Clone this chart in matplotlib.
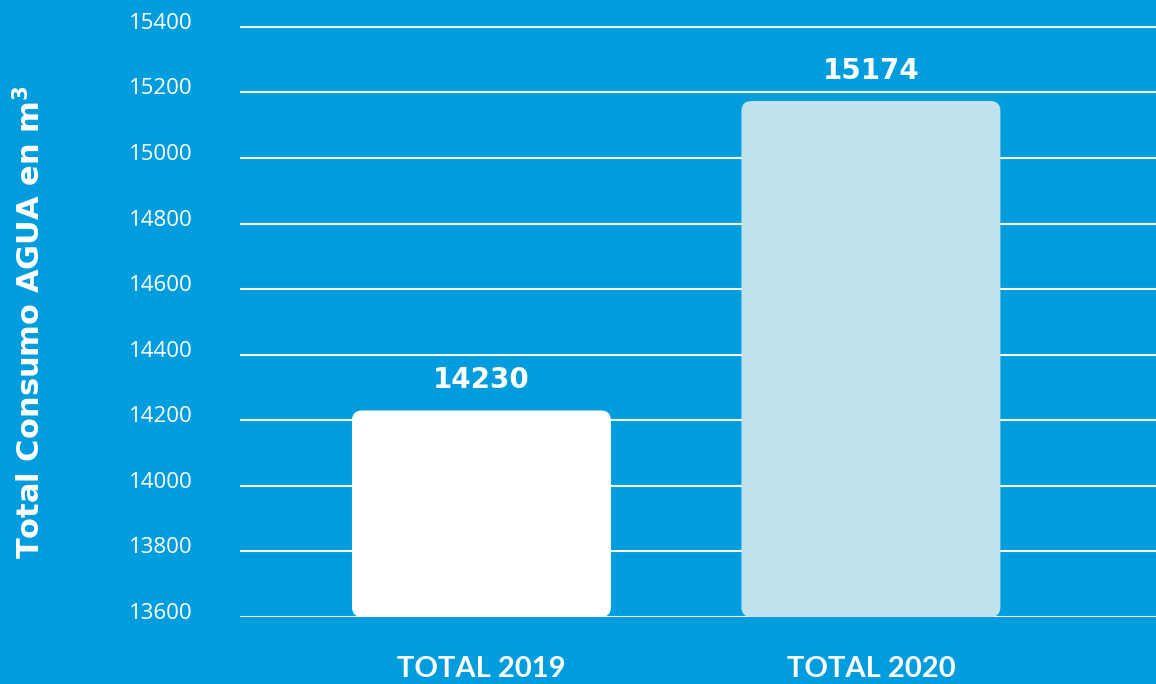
import matplotlib
matplotlib.use("Agg")
from matplotlib import pyplot as plt
from matplotlib.patches import FancyBboxPatch
from matplotlib.transforms import ScaledTranslation

categories = ["TOTAL 2019", "TOTAL 2020"]
values = [14230, 15174]
yticks = [13600, 13800, 14000, 14200, 14400, 14600, 14800, 15000, 15200, 15400]

bg = "#009DDE"
bar_colors = ["#FFFFFF", "#BFE2EE"]

fig = plt.figure(figsize=(11.56, 6.84), dpi=100, facecolor=bg)
ax = fig.add_axes([240 / 1156, 67 / 684, 916 / 1156, 617 / 684])
ax.set_facecolor(bg)

ax.set_xlim(-0.62, 1.732)
ax.set_ylim(13600, 15482)

bars = ax.bar(range(len(values)), [v - 13600 for v in values], bottom=13600,
              width=0.665, color=bar_colors, zorder=2)

# swap the plain rectangles for rounded ones
fig.canvas.draw()
p0 = ax.transData.transform((0, 13600))
p1 = ax.transData.transform((1, 13800))
x_px = p1[0] - p0[0]
y_px = (p1[1] - p0[1]) / 200
aspect = x_px / y_px
for b, c in zip(bars, bar_colors):
    b.set_visible(False)
    rp = FancyBboxPatch((b.get_x(), b.get_y()), b.get_width(), b.get_height(),
                        boxstyle="round,pad=0,rounding_size=%f" % (10 / x_px),
                        mutation_aspect=aspect, facecolor=c, edgecolor="none",
                        zorder=2)
    ax.add_patch(rp)

for i, v in enumerate(values):
    ax.text(i, v + 50, str(v), ha="center", va="bottom", color="white",
            fontsize=20, fontweight="bold", family=["DejaVu Sans"])

ax.set_yticks(yticks)
ax.set_yticklabels([str(t) for t in yticks], fontsize=16, color="white",
                   family=["Open Sans", "DejaVu Sans"])
ax.tick_params(axis="y", length=0, pad=34)
shift = ScaledTranslation(0, 0.06, fig.dpi_scale_trans)
for lab in ax.get_yticklabels():
    lab.set_transform(lab.get_transform() + shift)

ax.set_xticks(range(len(categories)))
ax.set_xticklabels(categories, fontsize=21, fontweight="bold", color="white",
                   family=["Lato", "DejaVu Sans"])
ax.tick_params(axis="x", length=0, pad=28)

ax.grid(axis="y", color="white", linewidth=1.5, zorder=1)
ax.set_axisbelow(True)
for s in ax.spines.values():
    s.set_visible(False)

fig.text(30 / 1156, 1 - 322 / 684, "Total Consumo AGUA en m$^\\mathbf{3}$",
         rotation=90, ha="center", va="center", color="white", fontsize=22,
         fontweight="bold", family=["DejaVu Sans"])

fig.savefig("out.png", dpi=100, facecolor=bg)
